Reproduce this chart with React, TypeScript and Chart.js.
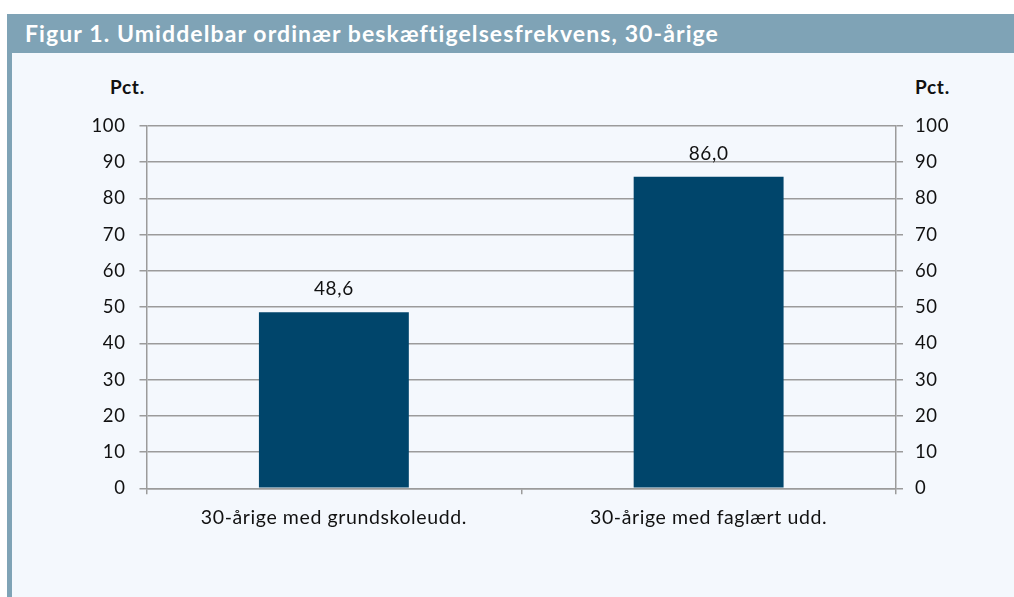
import React, { useEffect, useRef } from "react";
import { Chart, registerables } from "chart.js";

Chart.register(...registerables);

const TITLE = "Figur 1. Umiddelbar ordinær beskæftigelsesfrekvens, 30-årige";
const categories = ["30-årige med grundskoleudd.", "30-årige med faglært udd."];
const values = [48.6, 86.0];
const yMin = 0;
const yMax = 100;
const yStep = 10;
const unitLabel = "Pct.";

const FONT = "Lato, 'Open Sans', sans-serif";
const GRID = "#9b9b9b";
const BAR = "#00456b";

const spacing = {
  id: "spacing",
  beforeDraw(chart: any) {
    (chart.ctx as any).letterSpacing = "0.6px";
  },
};

const valueLabels = {
  id: "valueLabels",
  afterDatasetsDraw(chart: any) {
    const ctx = chart.ctx;
    const meta = chart.getDatasetMeta(0);
    ctx.save();
    ctx.font = `19px ${FONT}`;
    (ctx as any).letterSpacing = "0.6px";
    ctx.fillStyle = "#111";
    ctx.textAlign = "center";
    ctx.textBaseline = "alphabetic";
    meta.data.forEach((el: any, i: number) => {
      const v = chart.data.datasets[0].data[i] as number;
      ctx.fillText(v.toFixed(1).replace(".", ","), el.x, el.y - 17);
    });
    ctx.restore();
  },
};

export default function App() {
  const ref = useRef<HTMLCanvasElement>(null);
  useEffect(() => {
    if (!ref.current) return;
    const chart = new Chart(ref.current, {
      type: "bar",
      data: {
        labels: categories,
        datasets: [
          {
            data: values,
            backgroundColor: BAR,
            barPercentage: 0.4,
            categoryPercentage: 1,
            yAxisID: "y",
          },
        ],
      },
      options: {
        animation: false,
        responsive: false,
        maintainAspectRatio: false,
        layout: { padding: { top: 73, left: 0, right: 0, bottom: 0 } },
        plugins: { legend: { display: false }, tooltip: { enabled: false }, title: { display: false } },
        scales: {
          x: {
            offset: true,
            grid: { offset: true, drawOnChartArea: false, drawTicks: true, tickLength: 6, color: GRID, lineWidth: 1.5 },
            border: { display: true, color: GRID, width: 1.5 },
            ticks: { font: { family: FONT, size: 19.5 }, color: "#111", padding: 12 },
            afterFit: (s: any) => { s.height = 108.7; },
          },
          y: {
            position: "left",
            min: yMin,
            max: yMax,
            ticks: { stepSize: yStep, font: { family: FONT, size: 18.5 }, color: "#111", padding: 14 },
            grid: { color: GRID, lineWidth: 1.5, tickLength: 7 },
            border: { display: true, color: GRID, width: 1.5 },
            afterFit: (s: any) => { s.width = 134.5; },
          },
          y2: {
            position: "right",
            min: yMin,
            max: yMax,
            ticks: { stepSize: yStep, font: { family: FONT, size: 18.5 }, color: "#111", padding: 12 },
            grid: { drawOnChartArea: false, color: GRID, lineWidth: 1.5, tickLength: 7 },
            border: { display: true, color: GRID, width: 1.5 },
            afterFit: (s: any) => { s.width = 118; },
          },
        },
      },
      plugins: [spacing, valueLabels],
    });
    return () => chart.destroy();
  }, []);

  const pct: React.CSSProperties = {
    position: "absolute", top: 75, fontFamily: FONT, fontWeight: 700, fontSize: 19,
    letterSpacing: "0.7px", color: "#111",
  };

  return (
    <div style={{ position: "absolute", left: 0, top: 0, width: 1014, height: 597, background: "#fff", overflow: "hidden" }}>
      <div
        style={{
          position: "absolute", left: 7, top: 14, width: 1007, height: 39, background: "#7fa3b6",
          color: "#fff", fontFamily: FONT, fontWeight: 700, fontSize: 23, lineHeight: "39px",
          letterSpacing: "1.1px", paddingLeft: 18, boxSizing: "border-box", whiteSpace: "nowrap",
        }}
      >
        {TITLE}
      </div>
      <div style={{ position: "absolute", left: 7, top: 53, width: 5, height: 544, background: "#7fa3b6" }} />
      <div style={{ position: "absolute", left: 12, top: 53, width: 1002, height: 544, background: "#f4f8fd" }} />
      <div style={{ ...pct, left: 110 }}>{unitLabel}</div>
      <div style={{ ...pct, left: 915 }}>{unitLabel}</div>
      <canvas ref={ref} width={1002} height={544} style={{ position: "absolute", left: 12, top: 53, width: 1002, height: 544 }} />
    </div>
  );
}
